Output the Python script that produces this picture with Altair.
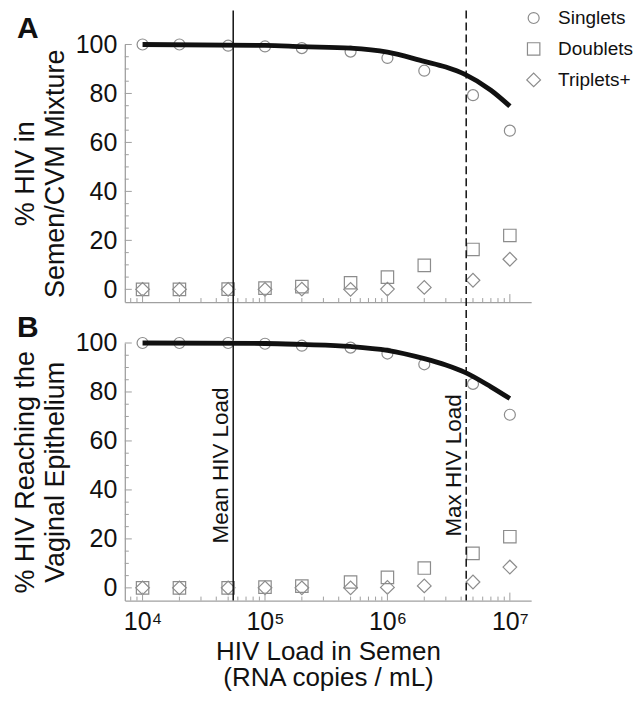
import altair as alt
import pandas as pd

# ---------------- data ----------------
loads = [1e4, 2e4, 5e4, 1e5, 2e5, 5e5, 1e6, 2e6, 5e6, 1e7]
series_names = ["Singlets", "Doublets", "Triplets+"]

a_singlets = [100, 100, 99.5, 99.2, 98.5, 97.1, 94.5, 89.3, 79.3, 64.8]
a_doublets = [0, 0, 0.1, 0.5, 1.1, 2.7, 5.0, 9.8, 16.3, 22.0]
a_triplets = [0, 0, 0, 0, 0.1, 0, 0.1, 0.8, 3.7, 12.3]

b_singlets = [100, 100, 100, 99.7, 98.9, 98.1, 95.7, 91.3, 83.3, 70.7]
b_doublets = [0, 0, 0, 0.3, 0.7, 2.4, 4.3, 8.1, 14.1, 20.9]
b_triplets = [0, 0, 0, 0, 0, 0, 0.2, 0.8, 2.4, 8.5]

curve_x = [1e4, 1e5, 2e5, 5e5, 1e6, 2e6, 3e6, 4.3e6, 7e6, 1e7]
a_curve = [100, 99.6, 99.1, 98.5, 96.9, 93.1, 90.8, 87.8, 81.3, 74.8]
b_curve = [100, 99.8, 99.4, 98.6, 97.0, 93.6, 91.0, 88.0, 82.1, 77.3]

mean_load = [5.5e4]
max_load = [4.4e6]
annot_labels = ["Mean HIV Load", "Max HIV Load"]
annot_y = [50, 50]

decades = [1e4, 1e5, 1e6, 1e7]
decade_labels = ["10\u2074", "10\u2075", "10\u2076", "10\u2077"]
minor_x = [8e3, 9e3,
           2e4, 3e4, 4e4, 5e4, 6e4, 7e4, 8e4, 9e4,
           2e5, 3e5, 4e5, 5e5, 6e5, 7e5, 8e5, 9e5,
           2e6, 3e6, 4e6, 5e6, 6e6, 7e6, 8e6, 9e6]
y_major = [0, 20, 40, 60, 80, 100]
y_minor = [5, 10, 15, 25, 30, 35, 45, 50, 55, 65, 70, 75, 85, 90, 95]

# ---------------- styling ----------------
W, H = 407, 258
GAP = 41
FONT = "Liberation Sans"
GRAY = "#8c8c8c"
AXGRAY = "#a0a0a0"

xscale = alt.Scale(type="log", domain=[7161, 1.493e7], nice=False)
yscale = alt.Scale(domain=[-5.2, 100], nice=False, zero=False)

label_expr = " : ".join(
    f"datum.value == {int(v)} ? '{l}'" for v, l in zip(decades[:-1], decade_labels[:-1])
) + f" : '{decade_labels[-1]}'"


def make_legend():
    return alt.Legend(
        orient="none", legendX=400, legendY=-36, title=None, padding=0,
        labelFontSize=19, labelFont=FONT, labelColor="#111",
        symbolStrokeColor=GRAY, symbolStrokeWidth=1.2, symbolFillColor="transparent",
        rowPadding=11, labelOffset=15,
    )


def tick_rules(values, size, horizontal):
    df = pd.DataFrame({"v": values})
    base = alt.Chart(df).mark_rule(color=AXGRAY, strokeWidth=1)
    if horizontal:  # ticks on the y axis
        return base.encode(y=alt.Y("v:Q", scale=yscale, axis=None),
                           x=alt.value(0), x2=alt.value(size))
    return base.encode(x=alt.X("v:Q", scale=xscale, axis=None),
                       y=alt.value(H), y2=alt.value(H - size))


def panel(singlets, doublets, triplets, curve, ytitle, letter, is_bottom):
    rows = []
    for name, vals in zip(series_names, [singlets, doublets, triplets]):
        for x, y in zip(loads, vals):
            rows.append({"load": x, "pct": y, "series": name})
    pts_df = pd.DataFrame(rows)
    curve_df = pd.DataFrame({"load": curve_x, "pct": curve})

    if is_bottom:
        x_main = alt.Axis(orient="bottom", values=decades, labelExpr=label_expr,
                          ticks=False, domain=True, domainColor=AXGRAY, domainWidth=1.3,
                          grid=False, labelFontSize=25, labelPadding=9, labelFont=FONT,
                          labelColor="#111", title=["HIV Load in Semen", "(RNA copies / mL)"],
                          titleFontSize=26, titleFont=FONT, titleFontWeight="normal",
                          titleColor="#111", titleLineHeight=26, titlePadding=4)
        leg1 = None
        leg2 = None
    else:
        x_main = alt.Axis(orient="bottom", values=decades, labels=False, ticks=False,
                          domain=True, domainColor=AXGRAY, domainWidth=1.3, grid=False, title=None)
        leg1 = make_legend()
        leg2 = make_legend()

    y_main = alt.Axis(orient="left", values=y_major, ticks=False, domain=True,
                      domainColor=AXGRAY, domainWidth=1.3, grid=False,
                      labelFontSize=25, labelFont=FONT, labelColor="#111", labelPadding=8,
                      title=ytitle, titleFontSize=27, titleFont=FONT, titleFontWeight="normal",
                      titleColor="#111", titleLineHeight=30, titlePadding=6)

    pts = alt.Chart(pts_df).mark_point(filled=False, strokeWidth=1.2, color=GRAY, opacity=1).encode(
        x=alt.X("load:Q", scale=xscale, axis=x_main),
        y=alt.Y("pct:Q", scale=yscale, axis=y_main),
        shape=alt.Shape("series:N", scale=alt.Scale(domain=series_names,
                                                    range=["circle", "square", "diamond"]),
                        legend=leg1),
        size=alt.Size("series:N", scale=alt.Scale(domain=series_names, range=[121, 188, 279]),
                      legend=leg2),
    )

    line = alt.Chart(curve_df).mark_line(color="#111", strokeWidth=4.8, interpolate="monotone").encode(
        x=alt.X("load:Q", scale=xscale, axis=None),
        y=alt.Y("pct:Q", scale=yscale, axis=None),
    )

    ticks = [tick_rules(decades, 8, False), tick_rules(minor_x, 4, False),
             tick_rules(y_major, 7, True), tick_rules(y_minor, 4, True)]

    top_px = -34 if not is_bottom else 0
    bot_px = H + GAP if not is_bottom else H
    rule_mean = alt.Chart(pd.DataFrame({"load": mean_load})).mark_rule(
        color="#111", strokeWidth=1.5).encode(
        x=alt.X("load:Q", scale=xscale, axis=None),
        y=alt.value(top_px), y2=alt.value(bot_px))
    rule_max = alt.Chart(pd.DataFrame({"load": max_load})).mark_rule(
        color="#111", strokeWidth=1.5, strokeDash=[8, 4]).encode(
        x=alt.X("load:Q", scale=xscale, axis=None),
        y=alt.value(top_px), y2=alt.value(bot_px))

    letter_txt = alt.Chart(pd.DataFrame({"t": [letter]})).mark_text(
        font=FONT, fontSize=30, fontWeight="bold", align="left", baseline="alphabetic",
        color="#111").encode(text="t:N", x=alt.value(-108), y=alt.value(-6))

    layers = [pts] + ticks + [line, rule_mean, rule_max, letter_txt]
    if is_bottom:
        ann = alt.Chart(pd.DataFrame({"load": mean_load + max_load, "pct": annot_y,
                                      "label": annot_labels})).mark_text(
            font=FONT, fontSize=22.5, angle=270, align="center", baseline="bottom",
            color="#111").encode(
            x=alt.X("load:Q", scale=xscale, axis=None),
            y=alt.Y("pct:Q", scale=yscale, axis=None),
            text="label:N")
        layers.append(ann)

    return alt.layer(*layers).resolve_axis(x="independent", y="independent").properties(
        width=W, height=H)


pa = panel(a_singlets, a_doublets, a_triplets, a_curve, ["% HIV in", "Semen/CVM Mixture"], "A", False)
pb = panel(b_singlets, b_doublets, b_triplets, b_curve,
           ["% HIV Reaching the", "Vaginal Epithelium"], "B", True)

chart = alt.vconcat(pa, pb, spacing=GAP, bounds="flush").resolve_scale(
    shape="independent", size="independent").properties(
    padding={"left": 3, "top": 0, "right": 0, "bottom": 0}
).configure(font=FONT).configure_view(strokeWidth=0)

chart.save("out.html", embed_options={"renderer": "svg", "actions": False})
